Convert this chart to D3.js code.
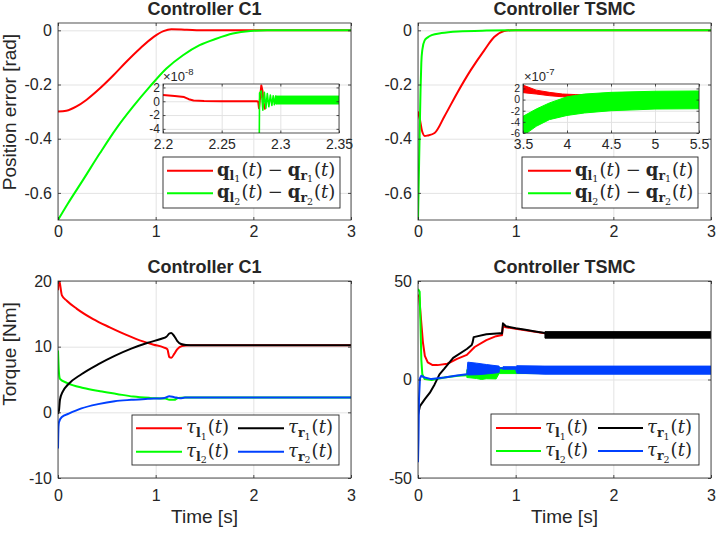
<!DOCTYPE html>
<html>
<head>
<meta charset="utf-8">
<script src="https://cdn.jsdelivr.net/npm/d3@7"></script>
<style>
  body { margin: 0; background: #fff; }
  svg text { font-family: "Liberation Sans", Arial, sans-serif; fill: #262626; }
</style>
</head>
<body>
<svg id="fig" width="718" height="533"></svg>
<script>
// ---- data ----
// top left: controller C1, position error [rad]
const c1PosT1 = [0, 0.085, 0.19, 0.29, 0.43, 0.57, 0.70, 0.84, 0.98, 1.08, 1.16, 1.32, 1.52, 2, 3];
const c1PosE1 = [-0.3, -0.297, -0.281, -0.257, -0.214, -0.165, -0.116, -0.067, -0.024, -0.003, 0.004, 0.002, 0, 0, 0];
const c1PosT2 = [0, 0.1, 0.26, 0.43, 0.60, 0.77, 0.94, 1.11, 1.28, 1.45, 1.62, 1.79, 1.97, 2.14, 3];
const c1PosE2 = [-0.7, -0.64, -0.55, -0.453, -0.361, -0.281, -0.208, -0.141, -0.092, -0.055, -0.031, -0.012, -0.0025, 0, 0];
// inset (x1e-8)
const c1ZoomT1 = [2.2, 2.21, 2.218, 2.222, 2.226, 2.235, 2.25, 2.28, 2.2812, 2.2818, 2.2826, 2.2838, 2.2848, 2.2858, 2.287];
const c1ZoomE1 = [0.9, 0.75, 0.6, 0.3, 0.12, 0.05, 0.0, 0.0, -0.1, -1.0, 0.3, 2.3, 1.5, -0.3, -1.2];
const c1ZoomT2 = [2.2818, 2.2823, 2.2838, 2.2851, 2.2864, 2.2877, 2.2889, 2.2902, 2.2915, 2.2928, 2.2939, 2.2949, 2.296, 2.297];
const c1ZoomE2 = [-12, 1.2, 1.5, -1.3, 1.3, -1.0, 1.1, -0.8, 0.9, -0.6, 0.8, -0.5, 0.75, -0.4];
const c1BandT2 = [2.296, 2.35];
const c1BandLo2 = [-0.4, -0.4];
const c1BandHi2 = [0.75, 0.75];

// top right: controller TSMC, position error [rad]
const smPosT1 = [0, 0.02, 0.04, 0.07, 0.1, 0.17, 0.27, 0.40, 0.54, 0.68, 0.78, 0.88, 0.95, 3];
const smPosE1 = [-0.3, -0.33, -0.37, -0.39, -0.388, -0.379, -0.318, -0.232, -0.147, -0.073, -0.025, -0.003, 0, 0];
const smPosT2 = [0, 0.008, 0.017, 0.026, 0.034, 0.045, 0.068, 0.1, 0.14, 0.24, 0.41, 0.7, 1, 3];
const smPosE2 = [-0.7, -0.55, -0.38, -0.22, -0.12, -0.07, -0.037, -0.026, -0.018, -0.01, -0.004, -0.001, 0, 0];
// inset (x1e-7), chattering drawn as bands
const smBandT1 = [3.5, 3.65, 3.8, 3.95, 4.1, 4.3];
const smBandLo1 = [1.25, 1.0, 0.7, 0.5, 0.3, 0.2];
const smBandHi1 = [2.6, 1.7, 1.3, 1.0, 0.9, 0.8];
const smBandT2 = [3.5, 3.65, 3.8, 4.0, 4.2, 4.5, 5.0, 5.5];
const smBandLo2 = [-6.5, -4.8, -3.6, -2.85, -2.4, -2.0, -1.7, -1.65];
const smBandHi2 = [-3.0, -1.7, -0.6, 0.5, 1.0, 1.3, 1.5, 1.55];

// bottom left: controller C1, torque [Nm]
const c1TqT1 = [0, 0.01, 0.04, 0.09, 0.19, 0.36, 0.53, 0.70, 0.87, 0.98, 1.08, 1.12, 1.14, 1.16, 1.19, 1.22, 1.27, 1.35, 3];
const c1TqL1 = [18.6, 20.2, 17.8, 17.0, 15.8, 14.2, 12.95, 11.8, 10.8, 10.3, 9.9, 9.6, 8.4, 8.3, 8.9, 9.6, 10.1, 10.2, 10.2];
const c1TqT2 = [0, 0.01, 0.02, 0.09, 0.26, 0.43, 0.6, 0.77, 0.94, 1.1, 1.14, 1.19, 1.23, 1.3, 3];
const c1TqL2 = [9.4, 6.0, 5.1, 4.5, 3.7, 3.2, 2.8, 2.4, 2.2, 2.1, 1.9, 1.9, 2.2, 2.24, 2.24];
const c1TqT3 = [0, 0.01, 0.02, 0.05, 0.1, 0.24, 0.41, 0.58, 0.75, 0.92, 1.06, 1.11, 1.14, 1.16, 1.19, 1.22, 1.26, 1.31, 1.4, 3];
const c1TqR1 = [-0.2, 0.3, 1.9, 3.2, 4.2, 5.8, 7.3, 8.6, 9.7, 10.6, 11.2, 11.5, 12.0, 12.1, 11.6, 10.9, 10.4, 10.25, 10.2, 10.2];
const c1TqT4 = [0, 0.005, 0.01, 0.04, 0.11, 0.24, 0.41, 0.58, 0.75, 0.92, 1.09, 1.14, 1.19, 1.25, 1.3, 3];
const c1TqR2 = [-5.5, -2.2, -1.5, -0.7, -0.2, 0.6, 1.25, 1.7, 1.9, 2.05, 2.2, 2.45, 2.3, 2.15, 2.24, 2.24];

// bottom right: controller TSMC, torque [Nm]
const smTqT1 = [0, 0.012, 0.03, 0.05, 0.07, 0.1, 0.15, 0.2, 0.3, 0.4, 0.5, 0.58, 0.7, 0.8, 0.85, 0.86, 0.87, 0.9, 1.0, 1.3, 3];
const smTqL1 = [43, 42, 31, 19, 12, 8.7, 7.3, 7.3, 8, 10.5, 12.5, 16.5, 20, 22, 22.5, 22.5, 27, 26.5, 25.8, 23.5, 22.5];
const smTqT2 = [0, 0.017, 0.026, 0.034, 0.044, 0.068, 0.14, 0.27, 0.41, 0.5];
const smTqL2 = [46, 44.5, 27, 10, 2.7, 0.2, -0.2, 1, 1.9, 2.2];
const smBandT3 = [0.5, 0.6, 0.65, 0.7, 0.8, 0.83, 3];
const smBandLo3 = [1.0, 0.5, 0, 0.4, 0.3, 3.0, 3.0];
const smBandHi3 = [5.0, 5.0, 5.0, 5.0, 5.0, 6.0, 6.0];
const smTqT3 = [0, 0.02, 0.07, 0.12, 0.17, 0.22, 0.27, 0.36, 0.5, 0.55, 0.56, 0.57, 0.7, 0.84, 0.86, 0.87, 0.9, 1.0, 1.1, 1.2, 1.3];
const smTqR1 = [-18, -13.5, -10, -6.8, -2.5, 2.6, 5.5, 11, 15.5, 17.5, 19, 21.5, 23, 23.5, 23.3, 28.5, 27, 26, 25.2, 24.4, 23.6];
const smBandT4 = [1.3, 3];
const smBandLo4 = [21, 21];
const smBandHi4 = [24.3, 24.3];
const smTqT4 = [0, 0.005, 0.01, 0.02, 0.034, 0.068, 0.136, 0.27, 0.4, 0.5];
const smTqR2 = [-42, -30, -10, 0.5, 1.9, 1.0, 0.2, 1.0, 2, 2.7];
const smBandT5 = [0.5, 0.51, 0.6, 0.7, 0.83, 0.835, 0.86, 0.87, 1.0, 1.01, 1.3, 3];
const smBandLo5 = [2.7, 2.3, 2.4, 2.8, 3.5, 5.5, 5.5, 5.2, 5.2, 3.2, 2.7, 2.7];
const smBandHi5 = [2.8, 8.8, 8.3, 7.6, 6.8, 6.0, 6.0, 6.5, 6.5, 7.0, 6.8, 6.8];

const timeTicks = [0, 1, 2, 3];
const posTicks = [-0.6, -0.4, -0.2, 0];
const c1TqTicks = [-10, 0, 10, 20];
const smTqTicks = [-50, 0, 50];
const c1ZoomXTicks = [2.2, 2.25, 2.3, 2.35];
const c1ZoomYTicks = [-4, -2, 0, 2];
const smZoomXTicks = [3.5, 4, 4.5, 5, 5.5];
const smZoomYTicks = [-6, -4, -2, 0, 2];

const RED = '#ff0000', GREEN = '#00ff00', BLACK = '#000000', BLUE = '#0040ff';

const svg = d3.select('#fig');
let clipCount = 0;

// draws one MATLAB-like axes box, returns the scales and a group for data
function makeAxes(o) {
  const x = d3.scaleLinear().domain(o.xDomain).range([o.left, o.right]);
  const y = d3.scaleLinear().domain(o.yDomain).range([o.bottom, o.top]);
  const w = o.right - o.left, h = o.bottom - o.top;
  const g = svg.append('g');
  g.append('rect').attr('x', o.left).attr('y', o.top).attr('width', w).attr('height', h)
    .attr('fill', '#fff');

  // grid
  const gx = g.append('g').attr('transform', 'translate(0,' + o.bottom + ')')
    .call(d3.axisBottom(x).tickValues(o.xTicks).tickSize(-h).tickFormat(''));
  const gy = g.append('g').attr('transform', 'translate(' + o.left + ',0)')
    .call(d3.axisLeft(y).tickValues(o.yTicks).tickSize(-w).tickFormat(''));
  [gx, gy].forEach(a => {
    a.select('.domain').remove();
    a.selectAll('line').attr('stroke', '#e3e3e3').attr('stroke-width', 1);
  });

  const id = 'clip' + (clipCount++);
  g.append('clipPath').attr('id', id).append('rect')
    .attr('x', o.left).attr('y', o.top).attr('width', w).attr('height', h);
  const data = g.append('g').attr('clip-path', 'url(#' + id + ')');

  const top = g.append('g');
  const fmt = d => String(d);
  const axes = [
    [d3.axisBottom(x).tickValues(o.xTicks).tickFormat(fmt).tickPadding(o.xPad), 0, o.bottom, o.font],
    [d3.axisTop(x).tickValues(o.xTicks).tickFormat(''), 0, o.top, o.font],
    [d3.axisLeft(y).tickValues(o.yTicks).tickFormat(fmt).tickPadding(o.yPad), o.left, 0, o.yFont || o.font],
    [d3.axisRight(y).tickValues(o.yTicks).tickFormat(''), o.right, 0, o.font]
  ];
  axes.forEach(([ax, tx, ty, fs]) => {
    const a = top.append('g').attr('transform', 'translate(' + tx + ',' + ty + ')')
      .call(ax.tickSizeInner(-o.tick).tickSizeOuter(0));
    a.select('.domain').remove();
    a.selectAll('line').attr('stroke', '#262626').attr('stroke-width', 0.8);
    a.selectAll('text').style('font-size', fs + 'px').attr('fill', '#262626');
  });
  top.append('rect').attr('x', o.left).attr('y', o.top).attr('width', w).attr('height', h)
    .attr('fill', 'none').attr('stroke', '#262626').attr('stroke-width', 0.8);

  return { x, y, data, top };
}

function drawLine(ax, ts, vs, color, width, curve) {
  ax.data.append('path').datum(d3.zip(ts, vs))
    .attr('fill', 'none').attr('stroke', color).attr('stroke-width', width)
    .attr('stroke-linejoin', 'round')
    .attr('d', d3.line().x(d => ax.x(d[0])).y(d => ax.y(d[1])).curve(curve || d3.curveLinear));
}

function drawBand(ax, ts, lo, hi, color) {
  ax.data.append('path').datum(d3.zip(ts, lo, hi))
    .attr('fill', color).attr('stroke', color).attr('stroke-width', 1)
    .attr('d', d3.area().x(d => ax.x(d[0])).y0(d => ax.y(d[1])).y1(d => ax.y(d[2])));
}

// LaTeX-like label made of tspans
function mathText(g, x, y, parts) {
  const size = [18, 12.5, 9.5], off = [0, 4, 6.5];
  const t = g.append('text').attr('x', x).attr('y', y)
    .style('font-family', '"DejaVu Serif", serif').attr('fill', '#000');
  let level = 0;
  parts.forEach(p => {
    const lv = p.s || 0;
    const s = t.append('tspan').text(p.t).style('font-size', size[lv] + 'px')
      .attr('dy', off[lv] - off[level]);
    if (p.b) s.style('font-weight', 'bold');
    if (p.i) s.style('font-style', 'italic');
    if (p.dx) s.attr('dx', p.dx);
    level = lv;
  });
}

const qLabel = n => [
  { t: 'q', b: 1 }, { t: 'l', b: 1, s: 1 }, { t: n, s: 2 }, { t: '(', dx: 1 }, { t: 't', i: 1 }, { t: ')' },
  { t: '\u2212', dx: 5 }, { t: 'q', b: 1, dx: 5 }, { t: 'r', b: 1, s: 1 }, { t: n, s: 2 },
  { t: '(', dx: 1 }, { t: 't', i: 1 }, { t: ')' }
];
const tauLabel = (side, n) => [
  { t: '\u03c4', i: 1 }, { t: side, b: 1, s: 1 }, { t: n, s: 2 }, { t: '(', dx: 1 }, { t: 't', i: 1 }, { t: ')' }
];

function legendBox(x0, y0, x1, y1) {
  const g = svg.append('g');
  g.append('rect').attr('x', x0).attr('y', y0).attr('width', x1 - x0).attr('height', y1 - y0)
    .attr('fill', '#fff').attr('stroke', '#262626').attr('stroke-width', 0.9);
  return g;
}
function legendItem(g, lx0, lx1, ly, color, parts) {
  g.append('line').attr('x1', lx0).attr('x2', lx1).attr('y1', ly).attr('y2', ly)
    .attr('stroke', color).attr('stroke-width', 2);
  mathText(g, lx1 + 4, ly + 5, parts);
}

function exponent(x, y, e) {
  const t = svg.append('text').attr('x', x).attr('y', y).style('font-size', '13px');
  t.append('tspan').text('\u00d710');
  t.append('tspan').text(e).style('font-size', '9.5px').attr('dy', -6);
}

function title(x, y, s) {
  svg.append('text').attr('x', x).attr('y', y).attr('text-anchor', 'middle')
    .style('font-size', '18px').style('font-weight', 'bold').attr('fill', '#000').text(s);
}
function label(x, y, s, rot) {
  svg.append('text').attr('text-anchor', 'middle')
    .attr('transform', 'translate(' + x + ',' + y + ')' + (rot ? ' rotate(-90)' : ''))
    .style('font-size', '19px').text(s);
}

const smooth = d3.curveMonotoneX;

// ---- top left ----
const tl = makeAxes({ left: 58, right: 351, top: 23, bottom: 220, xDomain: [0, 3], yDomain: [-0.7, 0.027],
  xTicks: timeTicks, yTicks: posTicks, xPad: 6, yPad: 6, tick: 3, font: 16 });
drawLine(tl, c1PosT1, c1PosE1, RED, 2, smooth);
drawLine(tl, c1PosT2, c1PosE2, GREEN, 2, smooth);
const tli = makeAxes({ left: 163, right: 339, top: 84, bottom: 133, xDomain: [2.2, 2.35], yDomain: [-4.6, 2.5],
  xTicks: c1ZoomXTicks, yTicks: c1ZoomYTicks, xPad: 6, yPad: 3, tick: 2.5, font: 14, yFont: 12 });
drawLine(tli, c1ZoomT1, c1ZoomE1, RED, 2);
drawLine(tli, c1ZoomT2, c1ZoomE2, GREEN, 1.6);
drawBand(tli, c1BandT2, c1BandLo2, c1BandHi2, GREEN);
exponent(163, 81, '-8');
let lg = legendBox(163, 157, 340, 208);
legendItem(lg, 167, 213, 170.7, RED, qLabel('1'));
legendItem(lg, 167, 213, 193.3, GREEN, qLabel('2'));

// ---- top right ----
const tr = makeAxes({ left: 418, right: 711, top: 23, bottom: 220, xDomain: [0, 3], yDomain: [-0.7, 0.027],
  xTicks: timeTicks, yTicks: posTicks, xPad: 6, yPad: 6, tick: 3, font: 16 });
drawLine(tr, smPosT1, smPosE1, RED, 2, smooth);
drawLine(tr, smPosT2, smPosE2, GREEN, 2, smooth);
const tri = makeAxes({ left: 523, right: 699, top: 84, bottom: 133, xDomain: [3.5, 5.5], yDomain: [-6, 2.8],
  xTicks: smZoomXTicks, yTicks: smZoomYTicks, xPad: 6, yPad: 3, tick: 2.5, font: 14, yFont: 10.5 });
drawBand(tri, smBandT1, smBandLo1, smBandHi1, RED);
drawBand(tri, smBandT2, smBandLo2, smBandHi2, GREEN);
exponent(524, 81, '-7');
lg = legendBox(522, 157, 698, 208);
legendItem(lg, 528, 571, 170.7, RED, qLabel('1'));
legendItem(lg, 528, 571, 193.3, GREEN, qLabel('2'));

// ---- bottom left ----
const bl = makeAxes({ left: 58, right: 351, top: 281, bottom: 478, xDomain: [0, 3], yDomain: [-10, 20],
  xTicks: timeTicks, yTicks: c1TqTicks, xPad: 12, yPad: 6, tick: 3, font: 16 });
drawLine(bl, c1TqT1, c1TqL1, RED, 2, smooth);
drawLine(bl, c1TqT2, c1TqL2, GREEN, 2, smooth);
drawLine(bl, c1TqT3, c1TqR1, BLACK, 2, smooth);
drawLine(bl, c1TqT4, c1TqR2, BLUE, 2, smooth);
lg = legendBox(132, 415, 339, 465);
legendItem(lg, 136, 182, 428.3, RED, tauLabel('l', '1'));
legendItem(lg, 238, 284, 428.3, BLACK, tauLabel('r', '1'));
legendItem(lg, 136, 182, 451.7, GREEN, tauLabel('l', '2'));
legendItem(lg, 238, 284, 451.7, BLUE, tauLabel('r', '2'));

// ---- bottom right ----
const br = makeAxes({ left: 418, right: 711, top: 281, bottom: 478, xDomain: [0, 3], yDomain: [-50, 50],
  xTicks: timeTicks, yTicks: smTqTicks, xPad: 12, yPad: 6, tick: 3, font: 16 });
drawLine(br, smTqT1, smTqL1, RED, 2);
drawLine(br, smTqT2, smTqL2, GREEN, 2);
drawBand(br, smBandT3, smBandLo3, smBandHi3, GREEN);
drawLine(br, smTqT3, smTqR1, BLACK, 2);
drawBand(br, smBandT4, smBandLo4, smBandHi4, BLACK);
drawLine(br, smTqT4, smTqR2, BLUE, 2);
drawBand(br, smBandT5, smBandLo5, smBandHi5, BLUE);
lg = legendBox(491, 414, 699, 465);
legendItem(lg, 496, 541, 428, RED, tauLabel('l', '1'));
legendItem(lg, 598, 643, 428, BLACK, tauLabel('r', '1'));
legendItem(lg, 496, 541, 451, GREEN, tauLabel('l', '2'));
legendItem(lg, 598, 643, 451, BLUE, tauLabel('r', '2'));

// ---- titles and labels ----
title(204.5, 15, 'Controller C1');
title(564.5, 15, 'Controller TSMC');
title(204.5, 273, 'Controller C1');
title(564.5, 273, 'Controller TSMC');
label(16, 112, 'Position error [rad]', true);
label(16, 354, 'Torque [Nm]', true);
label(204.5, 523, 'Time [s]');
label(564.5, 523, 'Time [s]');
</script>
</body>
</html>
